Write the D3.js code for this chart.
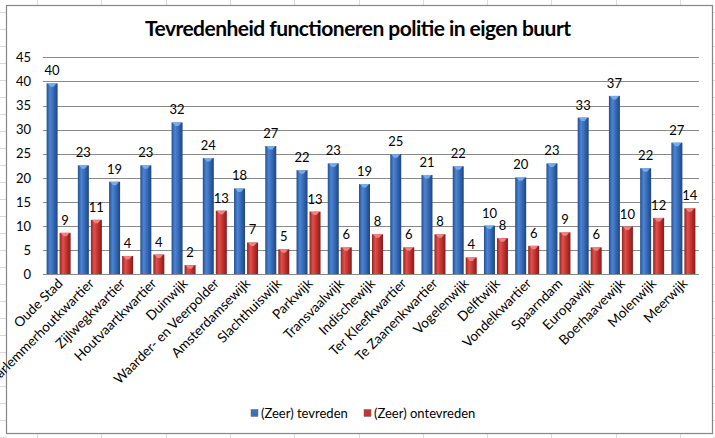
<!DOCTYPE html>
<html>
<head>
<meta charset="utf-8">
<script src="https://cdn.jsdelivr.net/npm/d3@7"></script>
<style>
  html, body { margin: 0; padding: 0; background: #ffffff; }
  svg { display: block; }
  text { font-family: Lato, "Liberation Sans", sans-serif; fill: #000; }
</style>
</head>
<body>
<svg id="chart" width="715" height="438"></svg>
<script>
const categories = ["Oude Stad", "Haarlemmerhoutkwartier", "Zijlwegkwartier", "Houtvaartkwartier", "Duinwijk",
  "Waarder- en Veerpolder", "Amsterdamsewijk", "Slachthuiswijk", "Parkwijk", "Transvaalwijk", "Indischewijk",
  "Ter Kleefkwartier", "Te Zaanenkwartier", "Vogelenwijk", "Delftwijk", "Vondelkwartier", "Spaarndam",
  "Europawijk", "Boerhaavewijk", "Molenwijk", "Meerwijk"];
const seriesNames = ["(Zeer) tevreden", "(Zeer) ontevreden"];
const tevreden   = [39.6, 22.6, 19.2, 22.6, 31.5, 24.1, 17.8, 26.6, 21.6, 23.0, 18.7, 24.9, 20.6, 22.4, 10.1, 20.1, 23.0, 32.5, 37.0, 22.0, 27.3];
const ontevreden = [8.6, 11.3, 3.8, 4.1, 1.9, 13.2, 6.6, 5.2, 13.0, 5.6, 8.3, 5.6, 8.3, 3.5, 7.5, 5.9, 8.7, 5.6, 9.9, 11.7, 13.7];
const yTicks = [0, 5, 10, 15, 20, 25, 30, 35, 40, 45];
const title = "Tevredenheid functioneren politie in eigen buurt";

(function () {
const svg = d3.select("#chart");

// faint spreadsheet grid outside chart
const outer = svg.append("g").attr("stroke", "#dadada").attr("stroke-width", 1);
d3.range(37, 715, 64.3).forEach(x => {
  outer.append("line").attr("x1", Math.round(x) + 0.5).attr("x2", Math.round(x) + 0.5).attr("y1", 0).attr("y2", 5);
  outer.append("line").attr("x1", Math.round(x) + 0.5).attr("x2", Math.round(x) + 0.5).attr("y1", 434).attr("y2", 438);
});
d3.range(12, 438, 17).forEach(y => {
  outer.append("line").attr("x1", 0).attr("x2", 6).attr("y1", y + 0.5).attr("y2", y + 0.5);
  outer.append("line").attr("x1", 713).attr("x2", 715).attr("y1", y + 0.5).attr("y2", y + 0.5);
});

// chart area border
svg.append("rect").attr("x", 6.5).attr("y", 5.5).attr("width", 706).attr("height", 428)
  .attr("fill", "#fff").attr("stroke", "#868686").attr("stroke-width", 1.2);

const defs = svg.append("defs");
function grad(id, stops) {
  const g = defs.append("linearGradient").attr("id", id).attr("x1", "0%").attr("x2", "100%").attr("y1", "0%").attr("y2", "0%");
  stops.forEach(s => g.append("stop").attr("offset", s[0]).attr("stop-color", s[1]));
}
grad("gBlue", [["0%", "#21508f"], ["30%", "#4d84d0"], ["55%", "#3a70c0"], ["100%", "#1d467f"]]);
grad("gRed", [["0%", "#922320"], ["30%", "#e0504c"], ["55%", "#cc3734"], ["100%", "#841c1a"]]);
const fills = ["url(#gBlue)", "url(#gRed)"];
const capFills = ["#7fb0ec", "#f08a87"];
const legendFills = ["#3a6fc0", "#c8322f"];

const plotL = 43, plotR = 699, plotT = 57.3, plotB = 274.3;
const x0 = d3.scaleBand().domain(categories).range([plotL, plotR]).paddingInner(0).paddingOuter(0);
const x1 = d3.scaleBand().domain(seriesNames).range([0, x0.bandwidth()]).paddingInner(0.154).paddingOuter(0.278);
const y = d3.scaleLinear().domain([0, 45]).range([plotB, plotT]);

// gridlines
svg.append("g").selectAll("line").data(yTicks).join("line")
  .attr("x1", plotL).attr("x2", plotR)
  .attr("y1", d => Math.round(y(d)) + 0.5).attr("y2", d => Math.round(y(d)) + 0.5)
  .attr("stroke", "#8a8a8a").attr("stroke-width", 1);

// y axis labels
const yAxis = d3.axisLeft(y).tickValues(yTicks).tickSize(0).tickPadding(0);
const yg = svg.append("g").attr("transform", `translate(${31},0)`).call(yAxis);
yg.select(".domain").remove();
yg.selectAll("text").attr("font-size", 13).attr("font-family", "Lato, sans-serif").attr("fill", "#000");

// bars
const data = categories.map((c, i) => ({ c, vals: [tevreden[i], ontevreden[i]] }));
const groups = svg.append("g").selectAll("g").data(data).join("g")
  .attr("transform", d => `translate(${x0(d.c)},0)`);
groups.each(function (d) {
  const g = d3.select(this);
  d.vals.forEach((v, si) => {
    const bx = x1(seriesNames[si]), bw = x1.bandwidth();
    g.append("rect").attr("x", bx).attr("y", y(v)).attr("width", bw).attr("height", y(0) - y(v))
      .attr("fill", fills[si]);
    g.append("path")
      .attr("d", `M${bx + 1},${y(v)} L${bx + bw - 1},${y(v)} L${bx + bw / 2 + 1.5},${y(v) + 3.5} L${bx + bw / 2 - 1.5},${y(v) + 3.5} Z`)
      .attr("fill", capFills[si]).attr("opacity", 0.9);
    g.append("text").attr("x", bx + bw / 2).attr("y", y(v) - 8)
      .attr("text-anchor", "middle").attr("font-size", 13)
      .text(Math.round(v));
  });
});

// x axis line
svg.append("line").attr("x1", plotL).attr("x2", plotR).attr("y1", Math.round(plotB) + 0.5).attr("y2", Math.round(plotB) + 0.5)
  .attr("stroke", "#8a8a8a");

// category labels
svg.append("g").selectAll("text").data(categories).join("text")
  .attr("transform", d => `translate(${x0(d) + x0.bandwidth() / 2 + 5},${plotB + 10}) rotate(-45)`)
  .attr("text-anchor", "end").attr("font-size", 13.5)
  .text(d => d);

// title
svg.append("text").attr("x", 358).attr("y", 36).attr("text-anchor", "middle")
  .attr("font-size", 21).attr("font-weight", "bold")
  .attr("textLength", 426).attr("lengthAdjust", "spacing")
  .text(title);

// legend
const legendItems = [{ x: 251, tx: 261 }, { x: 364, tx: 374 }];
const lg = svg.append("g");
seriesNames.forEach((s, i) => {
  lg.append("rect").attr("x", legendItems[i].x).attr("y", 409.5).attr("width", 7).attr("height", 7)
    .attr("fill", legendFills[i]).attr("stroke", "#6d6d6d").attr("stroke-width", 0.5);
  lg.append("text").attr("x", legendItems[i].tx).attr("y", 417.5).attr("font-size", 13).text(s);
});
})();
</script>
</body>
</html>
